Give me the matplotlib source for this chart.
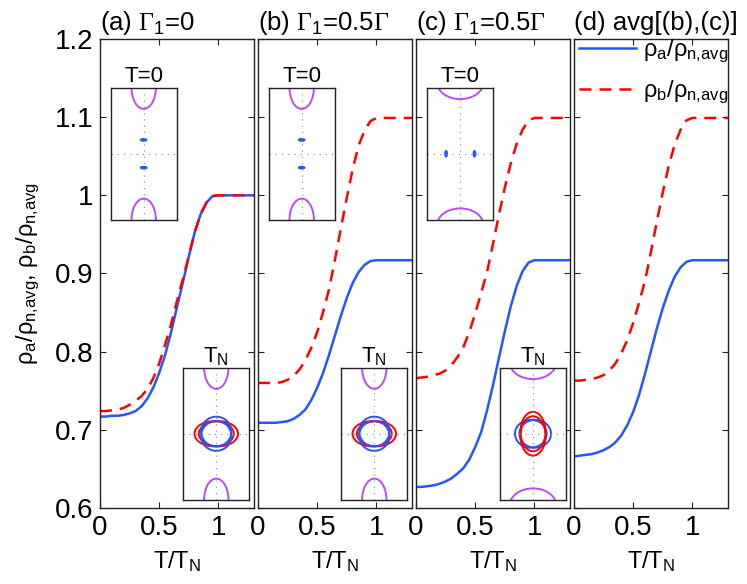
import matplotlib
matplotlib.use('Agg')
import matplotlib.pyplot as plt
from matplotlib.patches import Ellipse

plt.rcParams['font.family'] = ['Liberation Sans', 'DejaVu Sans']
plt.rcParams['mathtext.fontset'] = 'custom'
plt.rcParams['mathtext.rm'] = 'Liberation Serif'
plt.rcParams['mathtext.sf'] = 'Liberation Sans'
plt.rcParams['mathtext.it'] = 'Liberation Sans:italic'

# temperature grid T/T_N
T = [0, 0.05, 0.1, 0.15, 0.2, 0.25, 0.3, 0.35, 0.4, 0.45, 0.5, 0.55, 0.6, 0.65,
     0.7, 0.75, 0.8, 0.85, 0.9, 0.95, 1.0, 1.3]

# (a) Gamma_1 = 0
a_rho_a = [0.717, 0.717, 0.718, 0.718, 0.719, 0.721, 0.724, 0.730, 0.740, 0.754, 0.773,
           0.796, 0.825, 0.857, 0.889, 0.922, 0.953, 0.976, 0.991, 0.999, 1.0, 1.0]
a_rho_b = [0.724, 0.724, 0.725, 0.726, 0.728, 0.732, 0.737, 0.743, 0.752, 0.766, 0.785,
           0.809, 0.835, 0.865, 0.893, 0.923, 0.953, 0.976, 0.991, 0.999, 1.0, 1.0]
# (b) Gamma_1 = 0.5 Gamma
b_rho_a = [0.709, 0.709, 0.709, 0.709, 0.710, 0.711, 0.714, 0.719, 0.726, 0.738, 0.754,
           0.773, 0.796, 0.821, 0.846, 0.869, 0.888, 0.902, 0.911, 0.916, 0.917, 0.917]
b_rho_b = [0.760, 0.760, 0.760, 0.760, 0.761, 0.764, 0.769, 0.777, 0.789, 0.805, 0.825,
           0.851, 0.880, 0.918, 0.958, 0.997, 1.034, 1.064, 1.083, 1.095, 1.099, 1.099]
# (c) Gamma_1 = 0.5 Gamma (other orientation)
c_rho_a = [0.627, 0.627, 0.628, 0.629, 0.631, 0.634, 0.638, 0.644, 0.651, 0.662, 0.678,
           0.697, 0.725, 0.757, 0.792, 0.826, 0.858, 0.884, 0.903, 0.914, 0.917, 0.917]
c_rho_b = [0.766, 0.767, 0.768, 0.770, 0.772, 0.776, 0.783, 0.793, 0.806, 0.825, 0.849,
           0.875, 0.902, 0.938, 0.975, 1.010, 1.041, 1.066, 1.084, 1.096, 1.099, 1.099]
# (d) average of (b) and (c)
d_rho_a = [0.666, 0.667, 0.668, 0.669, 0.671, 0.674, 0.678, 0.684, 0.693, 0.706, 0.723,
           0.745, 0.772, 0.801, 0.830, 0.856, 0.878, 0.896, 0.908, 0.915, 0.917, 0.917]
d_rho_b = [0.763, 0.763, 0.764, 0.765, 0.767, 0.770, 0.776, 0.785, 0.798, 0.815, 0.837,
           0.863, 0.891, 0.928, 0.967, 1.004, 1.038, 1.065, 1.084, 1.096, 1.099, 1.099]

titles = [r'(a) $\Gamma_{\mathsf{1}}$=0', r'(b) $\Gamma_{\mathsf{1}}$=0.5$\Gamma$',
          r'(c) $\Gamma_{\mathsf{1}}$=0.5$\Gamma$', '(d) avg[(b),(c)]']
yticks = [0.6, 0.7, 0.8, 0.9, 1.0, 1.1, 1.2]
ytick_labels = ['0.6', '0.7', '0.8', '0.9', '1', '1.1', '1.2']
xticks = [0, 0.5, 1]
xtick_labels = ['0', '0.5', '1']

lab_a = 'ρ$_{\\mathsf{a}}$/ρ$_{\\mathsf{n{,}avg}}$'
lab_b = 'ρ$_{\\mathsf{b}}$/ρ$_{\\mathsf{n{,}avg}}$'

# Fermi surface sketches: (center x, center y, width, height)
fs_pockets_T0_ab = [(0, 0.42, 0.2, 0.08), (0, -0.42, 0.2, 0.08)]
fs_pockets_T0_c = [(0.43, 0, 0.08, 0.2), (-0.43, 0, 0.08, 0.2)]
fs_hole_ab = [(0, 2, 0.74, 1.29), (0, -2, 0.74, 1.29)]
fs_hole_c = [(0, 2.15, 1.40, 1.0), (0, -2.15, 1.40, 1.0)]
fs_TN_red_ab = [(0.066, 0, 1.19, 0.76), (-0.066, 0, 1.19, 0.76)]
fs_TN_blue_ab = [(0, 0.066, 0.92, 0.90), (0, -0.066, 0.92, 0.90)]
fs_TN_red_c = [(0, 0.066, 0.76, 1.19), (0, -0.066, 0.76, 1.19)]
fs_TN_blue_c = [(0.066, 0, 0.96, 0.84), (-0.066, 0, 0.96, 0.84)]

BLUE = '#2455ff'
RED = '#ff0000'
PURPLE = '#b94cf5'

W, H = 747, 584
fig = plt.figure(figsize=(W / 100, H / 100), dpi=100)

panel_left = [100, 258, 416, 574]
pw, ph, pb = 154, 469, 76

curves = [(a_rho_a, a_rho_b), (b_rho_a, b_rho_b), (c_rho_a, c_rho_b), (d_rho_a, d_rho_b)]


def draw_inset(x0, y0, title, holes, blues=None, reds=None, filled=None, blue_first=False):
    ins = fig.add_axes([x0 / W, y0 / H, 66 / W, 132.5 / H])
    ins.set_xlim(-1, 1)
    ins.set_ylim(-2, 2)
    ins.set_xticks([])
    ins.set_yticks([])
    for s in ins.spines.values():
        s.set_color('#222222')
        s.set_linewidth(1.0)
    ins.axvline(0, color='#999999', ls=(0, (1, 4)), lw=0.9)
    ins.axhline(0, color='#999999', ls=(0, (1, 4)), lw=0.9)
    for (cx, cy, w, h) in holes:
        ins.add_patch(Ellipse((cx, cy), w, h, fill=False, ec=PURPLE, lw=1.4))
    if filled:
        for (cx, cy, w, h) in filled:
            ins.add_patch(Ellipse((cx, cy), w, h, fc=BLUE, ec=BLUE, lw=0.8))
    order = [(blues, BLUE), (reds, RED)] if blue_first else [(reds, RED), (blues, BLUE)]
    for shapes, col in order:
        if shapes:
            for (cx, cy, w, h) in shapes:
                ins.add_patch(Ellipse((cx, cy), w, h, fill=False, ec=col, lw=1.4))
    ins.set_title(title, fontsize=16, pad=2)
    return ins


axes = []
for i in range(4):
    ax = fig.add_axes([panel_left[i] / W, pb / H, pw / W, ph / H])
    ra, rb = curves[i]
    la, = ax.plot(T, ra, color=BLUE, lw=1.8)
    lb, = ax.plot(T, rb, color=RED, lw=1.8, ls=(0, (4.8, 3.2)))
    ax.set_xlim(0, 1.3)
    ax.set_ylim(0.6, 1.2)
    ax.set_xticks(xticks)
    ax.set_xticklabels(xtick_labels)
    ax.set_yticks(yticks)
    if i == 0:
        ax.set_yticklabels(ytick_labels)
        ax.set_ylabel(lab_a + ', ' + lab_b, fontsize=17, labelpad=9)
    else:
        ax.set_yticklabels([])
    ax.tick_params(direction='in', top=True, right=True, length=4, width=0.8,
                   labelsize=20, pad=5, color='#222222')
    for s in ax.spines.values():
        s.set_color('#222222')
        s.set_linewidth(1.0)
    ax.set_xlabel('T/T$_{\\mathsf{N}}$', fontsize=17, labelpad=6)
    ax.set_title(titles[i], loc='left', fontsize=18.5, pad=6.5)
    axes.append(ax)

# insets
for i in range(2):
    draw_inset(panel_left[i] + 10.7, H - 220, 'T=0', fs_hole_ab, filled=fs_pockets_T0_ab)
    draw_inset(panel_left[i] + 83.3, H - 500, 'T$_{\\mathsf{N}}$', fs_hole_ab,
               blues=fs_TN_blue_ab, reds=fs_TN_red_ab)
draw_inset(panel_left[2] + 11.3, H - 220, 'T=0', fs_hole_c, filled=fs_pockets_T0_c)
draw_inset(panel_left[2] + 84, H - 500, 'T$_{\\mathsf{N}}$', fs_hole_c,
           blues=fs_TN_blue_c, reds=fs_TN_red_c, blue_first=True)

axes[3].legend([la, lb], [lab_a, lab_b],
               loc='upper left', bbox_to_anchor=(570 / W, 1 - 28 / H),
               bbox_transform=fig.transFigure, frameon=False, fontsize=17,
               handlelength=2.4, handletextpad=0.3, labelspacing=0.6, borderaxespad=0)

fig.savefig('out.png', dpi=100)
